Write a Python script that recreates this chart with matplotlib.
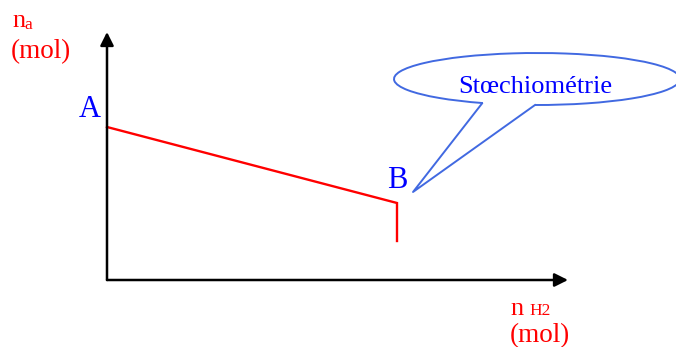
import numpy as np
import matplotlib
matplotlib.use("Agg")
import matplotlib.pyplot as plt
from matplotlib.patches import Arc

# Data (schematic values, 1 unit = 100 px)
n_H2 = [0.0, 2.9, 2.9]
n_a = [1.53, 0.77, 0.39]
point_labels = ["A", "B"]
x_axis_max = 4.61
y_axis_max = 2.48
callout_text = "Stœchiométrie"

plt.rcParams['font.family'] = ['Liberation Serif', 'DejaVu Serif']

fig = plt.figure(figsize=(6.76, 3.47), dpi=100)
ax = fig.add_axes([0, 0, 1, 1])
ax.set_xlim(-1.07, 5.69)
ax.set_ylim(-0.67, 2.80)
ax.axis('off')

# axes with arrows
arrow_kw = dict(arrowstyle='-|>', color='black', lw=1.8, mutation_scale=20,
                shrinkA=0, shrinkB=0)
ax.annotate('', xy=(0, y_axis_max), xytext=(0, 0), arrowprops=arrow_kw)
ax.annotate('', xy=(x_axis_max, 0), xytext=(0, 0), arrowprops=arrow_kw)

# red curve
ax.plot(n_H2, n_a, color='#ff0000', lw=1.7, solid_joinstyle='miter')

# point labels
ax.text(-0.065, n_a[0] + 0.10, point_labels[0], color='#0000ff', fontsize=22,
        ha='right', va='baseline')
ax.text(n_H2[1] - 0.10, n_a[1] + 0.15, point_labels[1], color='#0000ff', fontsize=22,
        ha='left', va='baseline')

# axis labels
ax.text(-0.95, 2.53, 'n', color='#ff0000', fontsize=19, va='baseline')
ax.text(-0.83, 2.51, 'a', color='#ff0000', fontsize=12.5, va='baseline')
ax.text(-0.96, 2.22, '(mol)', color='#ff0000', fontsize=19.5, va='baseline')

ax.text(4.03, -0.35, 'n', color='#ff0000', fontsize=19, va='baseline')
ax.text(4.225, -0.35, 'H2', color='#ff0000', fontsize=12.5, va='baseline')
ax.text(4.025, -0.62, '(mol)', color='#ff0000', fontsize=19.5, va='baseline')

# callout bubble
cx, cy, w, h = 4.30, 2.01, 2.86, 0.52
call_col = '#4169e1'
base1 = (3.75, 1.765)
base2 = (4.28, 1.75)
tip = (3.06, 0.88)
a1 = np.degrees(np.arctan2(base1[1] - cy, base1[0] - cx))
a2 = np.degrees(np.arctan2(base2[1] - cy, base2[0] - cx))
ax.add_patch(Arc((cx, cy), w, h, theta1=a2, theta2=a1, color=call_col, lw=1.4))
ax.plot([base1[0], tip[0], base2[0]], [base1[1], tip[1], base2[1]],
        color=call_col, lw=1.4)
ax.text(cx - 0.02, 1.87, callout_text, color='#0000ff', fontsize=19,
        ha='center', va='baseline')

fig.savefig('out.png', dpi=100)
